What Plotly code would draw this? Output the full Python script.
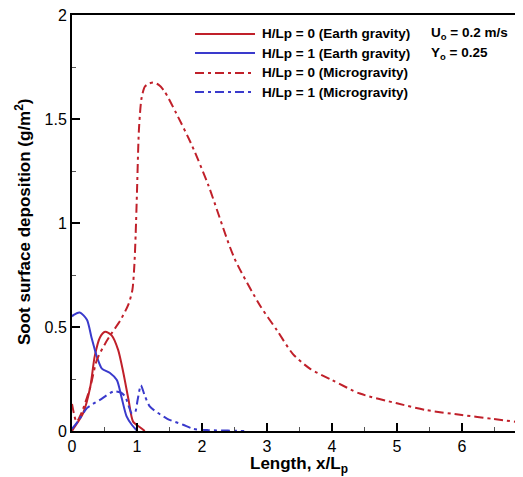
import plotly.graph_objects as go

# H/Lp = 0, Earth gravity
x_e0 = [0.0, 0.02, 0.17, 0.28, 0.35, 0.43, 0.51, 0.61, 0.71, 0.79, 0.87, 0.94, 1.05, 1.12]
y_e0 = [0.0, 0.01, 0.085, 0.21, 0.36, 0.45, 0.477, 0.46, 0.39, 0.28, 0.15, 0.045, 0.017, 0.0]

# H/Lp = 1, Earth gravity
x_e1 = [0.0, 0.02, 0.12, 0.23, 0.30, 0.38, 0.46, 0.58, 0.69, 0.76, 0.84, 0.92, 0.99]
y_e1 = [0.55, 0.557, 0.57, 0.535, 0.45, 0.36, 0.30, 0.28, 0.245, 0.165, 0.07, 0.03, 0.005]

# H/Lp = 0, Microgravity
x_m0 = [0.0, 0.07, 0.15, 0.28, 0.38, 0.51, 0.61, 0.74, 0.87, 0.93, 0.96, 0.98, 1.0, 1.03,
        1.07, 1.12, 1.18, 1.25, 1.33, 1.42, 1.6, 1.85, 2.1, 2.5, 2.9, 3.15, 3.4, 3.66,
        4.0, 4.43, 5.0, 5.46, 6.0, 6.48, 6.94]
y_m0 = [0.13, 0.045, 0.09, 0.21, 0.34, 0.42, 0.47, 0.53, 0.61, 0.68, 0.8, 0.95, 1.15, 1.45,
        1.6, 1.655, 1.67, 1.675, 1.665, 1.635, 1.53, 1.37, 1.18, 0.83, 0.60, 0.486, 0.37, 0.30,
        0.245, 0.18, 0.133, 0.10, 0.077, 0.058, 0.04]

# H/Lp = 1, Microgravity
x_m1 = [0.0, 0.1, 0.23, 0.43, 0.64, 0.75, 0.82, 0.92, 0.97, 1.01, 1.06, 1.12, 1.2, 1.46,
        1.71, 1.87, 2.1, 2.4, 2.65]
y_m1 = [0.01, 0.05, 0.11, 0.15, 0.19, 0.185, 0.165, 0.085, 0.09, 0.15, 0.22, 0.17, 0.117,
        0.06, 0.03, 0.01, 0.004, 0.002, 0.0]

x_ticks = [0, 1, 2, 3, 4, 5, 6]
y_ticks = [0, 0.5, 1, 1.5, 2]
y_tick_labels = ["0", "0.5", "1", "1.5", "2"]

legend_labels = ["H/Lp = 0 (Earth gravity)", "H/Lp = 1 (Earth gravity)",
                 "H/Lp = 0 (Microgravity)", "H/Lp = 1 (Microgravity)"]
x_title = "<b>Length, x/L<sub>p</sub></b>"
y_title = "<b>Soot surface deposition (g/m<sup>2</sup>)</b>"

RED = "#c0202a"
BLUE = "#3a3acc"
DASHDOT = "9px,4px,3px,4px"
FONT = "Liberation Sans, Arial, sans-serif"

series = [
    (x_e0, y_e0, RED, "solid"),
    (x_e1, y_e1, BLUE, "solid"),
    (x_m0, y_m0, RED, DASHDOT),
    (x_m1, y_m1, BLUE, DASHDOT),
]

fig = go.Figure()
for (xs, ys, col, dash), name in zip(series, legend_labels):
    fig.add_trace(go.Scatter(x=xs, y=ys, mode="lines", name=name,
                             line=dict(color=col, width=2, dash=dash, shape="spline", smoothing=0.7),
                             showlegend=False))

# page has an 8px body margin; plot area in window pixels: x 72..523, y 15..431
OFF = 8
PW, PH = 451.0, 416.0
def px(x):
    return (x - 72) / PW
def py(y):
    return (431 - y) / PH

row_px = [34, 53, 73, 92]
for i, (name, (_, _, col, dash)) in enumerate(zip(legend_labels, series)):
    fig.add_shape(type="line", xref="paper", yref="paper",
                  x0=px(195), x1=px(255), y0=py(row_px[i]), y1=py(row_px[i]),
                  line=dict(color=col, width=2, dash=dash))
    fig.add_annotation(xref="paper", yref="paper", x=px(260), y=py(row_px[i]), text=name,
                       showarrow=False, xanchor="left", yanchor="middle",
                       font=dict(family=FONT, size=13.5, color="black", weight="bold"))

fig.add_annotation(xref="paper", yref="paper", x=px(429), y=py(row_px[0]),
                   text="U<sub>o</sub> = 0.2 m/s", showarrow=False, xanchor="left",
                   yanchor="middle", font=dict(family=FONT, size=13.5, color="black", weight="bold"))
fig.add_annotation(xref="paper", yref="paper", x=px(429), y=py(row_px[1]),
                   text="Y<sub>o</sub> = 0.25", showarrow=False, xanchor="left",
                   yanchor="middle", font=dict(family=FONT, size=13.5, color="black", weight="bold"))

# axis titles
fig.add_annotation(xref="paper", yref="paper", x=px(299), y=py(465), text=x_title,
                   showarrow=False, xanchor="center", yanchor="middle",
                   font=dict(family=FONT, size=17, color="black"))
fig.add_annotation(xref="paper", yref="paper", x=px(23), y=py(222), text=y_title,
                   showarrow=False, xanchor="center", yanchor="middle", textangle=-90,
                   font=dict(family=FONT, size=17, color="black"))

W, H = 523 - OFF, 477 - OFF
fig.update_layout(
    width=W, height=H,
    margin=dict(l=72 - OFF, r=0, t=15 - OFF, b=H - (431 - OFF), autoexpand=False),
    paper_bgcolor="white", plot_bgcolor="white",
    font=dict(family=FONT, size=16, color="black"),
)
fig.update_xaxes(
    range=[0, 6.94], tickvals=x_ticks, ticks="inside", ticklen=8, tickwidth=2,
    tickcolor="black", showline=True, linecolor="black", linewidth=2, mirror=True,
    showgrid=False, zeroline=False, automargin=False, ticklabeloverflow="allow",
    minor=dict(dtick=0.5, ticks="inside", ticklen=4, tickwidth=1, tickcolor="#555"),
    tickfont=dict(size=16),
)
fig.update_yaxes(
    range=[0, 2], tickvals=y_ticks, ticktext=y_tick_labels, ticks="inside", ticklen=8,
    tickwidth=2, tickcolor="black", showline=True, linecolor="black", linewidth=2,
    showgrid=False, zeroline=False, automargin=False, ticklabeloverflow="allow",
    minor=dict(dtick=0.25, ticks="inside", ticklen=4, tickwidth=1, tickcolor="#555"),
    tickfont=dict(size=16),
)

fig.write_html("out.html")
